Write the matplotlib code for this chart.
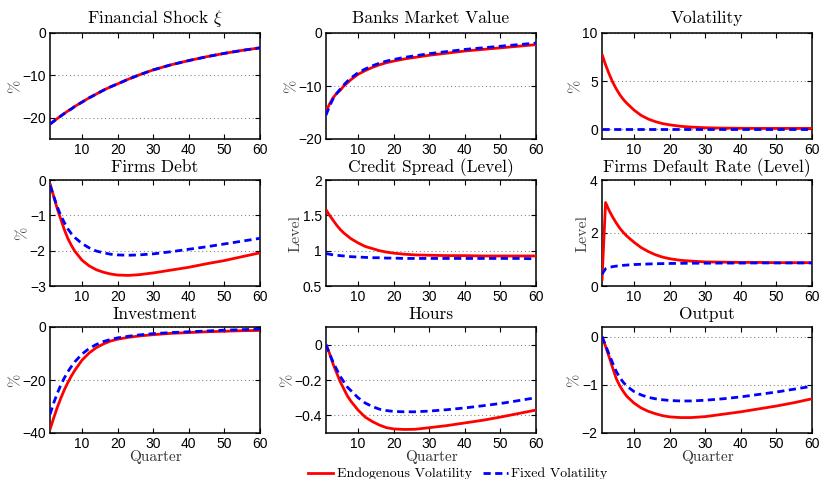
import matplotlib
matplotlib.use("Agg")
import matplotlib.pyplot as plt
from matplotlib.lines import Line2D

plt.rcParams["mathtext.fontset"] = "cm"
plt.rcParams["font.family"] = ["Liberation Sans", "DejaVu Sans"]

# Quarters at which the impulse responses are recorded
quarters = [1, 2, 3, 4, 5, 6, 7, 8, 10, 12, 14, 16, 18, 20, 23, 26, 30, 35, 40, 45, 50, 55, 60]

shock_endo = [-21.5, -20.85, -20.2, -19.6, -19.0, -18.4, -17.9, -17.3, -16.3, -15.3, -14.4, -13.5,
              -12.7, -12.0, -10.9, -9.9, -8.7, -7.5, -6.5, -5.6, -4.8, -4.1, -3.5]
shock_fixed = [-21.5, -20.85, -20.2, -19.6, -19.0, -18.4, -17.9, -17.3, -16.3, -15.3, -14.4, -13.5,
               -12.7, -12.0, -10.9, -9.9, -8.7, -7.5, -6.5, -5.6, -4.8, -4.1, -3.5]

banks_endo = [-14.8, -13.4, -12.2, -11.4, -10.8, -10.0, -9.4, -8.8, -7.8, -7.1, -6.5, -6.0,
              -5.6, -5.3, -4.9, -4.6, -4.2, -3.8, -3.4, -3.1, -2.8, -2.5, -2.2]
banks_fixed = [-15.5, -13.8, -12.4, -11.4, -10.6, -9.8, -9.1, -8.5, -7.5, -6.8, -6.2, -5.7,
               -5.3, -5.0, -4.6, -4.3, -3.9, -3.5, -3.1, -2.8, -2.5, -2.2, -1.9]

vol_endo = [7.8, 6.7, 5.75, 4.9, 4.2, 3.6, 3.1, 2.7, 2.0, 1.45, 1.07, 0.8,
            0.6, 0.47, 0.32, 0.24, 0.17, 0.13, 0.11, 0.1, 0.1, 0.1, 0.1]
vol_fixed = [0.0] * 23

debt_endo = [-0.1, -0.45, -0.8, -1.1, -1.4, -1.65, -1.85, -2.02, -2.27, -2.43, -2.54, -2.61,
             -2.66, -2.69, -2.7, -2.68, -2.63, -2.55, -2.47, -2.37, -2.28, -2.17, -2.06]
debt_fixed = [-0.15, -0.45, -0.75, -1.0, -1.2, -1.38, -1.52, -1.63, -1.8, -1.92, -2.01, -2.06,
              -2.1, -2.12, -2.13, -2.12, -2.09, -2.03, -1.96, -1.89, -1.81, -1.73, -1.65]

spread_endo = [1.58, 1.5, 1.43, 1.36, 1.3, 1.25, 1.21, 1.17, 1.11, 1.06, 1.03, 1.0,
               0.98, 0.965, 0.95, 0.94, 0.935, 0.93, 0.93, 0.925, 0.925, 0.925, 0.925]
spread_fixed = [0.96, 0.95, 0.94, 0.935, 0.93, 0.925, 0.92, 0.915, 0.91, 0.905, 0.9, 0.9,
                0.895, 0.895, 0.89, 0.89, 0.89, 0.89, 0.89, 0.89, 0.89, 0.89, 0.885]

default_endo = [0.2, 3.15, 2.85, 2.6, 2.38, 2.18, 2.02, 1.88, 1.65, 1.45, 1.3, 1.18,
                1.09, 1.03, 0.97, 0.94, 0.91, 0.9, 0.89, 0.89, 0.88, 0.88, 0.88]
default_fixed = [0.45, 0.65, 0.7, 0.73, 0.75, 0.77, 0.78, 0.79, 0.81, 0.82, 0.83, 0.84,
                 0.845, 0.85, 0.855, 0.86, 0.86, 0.865, 0.865, 0.87, 0.87, 0.87, 0.87]

invest_endo = [-38.7, -34.5, -30.5, -27.0, -23.8, -21.0, -18.5, -16.3, -12.5, -9.8, -7.8, -6.4,
               -5.3, -4.6, -3.9, -3.4, -2.9, -2.4, -2.1, -1.8, -1.6, -1.4, -1.3]
invest_fixed = [-33.0, -28.8, -25.2, -22.0, -19.3, -16.9, -14.9, -13.1, -10.2, -8.1, -6.6, -5.5,
                -4.7, -4.1, -3.5, -3.0, -2.5, -2.1, -1.8, -1.5, -1.2, -1.0, -0.8]

hours_endo = [0.0, -0.05, -0.11, -0.16, -0.21, -0.25, -0.29, -0.32, -0.37, -0.41, -0.435, -0.455,
              -0.47, -0.477, -0.48, -0.479, -0.47, -0.458, -0.443, -0.428, -0.41, -0.39, -0.37]
hours_fixed = [0.0, -0.05, -0.1, -0.14, -0.18, -0.21, -0.24, -0.26, -0.3, -0.33, -0.35, -0.365,
               -0.373, -0.378, -0.38, -0.38, -0.376, -0.368, -0.358, -0.346, -0.333, -0.317, -0.3]

output_endo = [0.0, -0.2, -0.42, -0.65, -0.87, -1.02, -1.14, -1.24, -1.38, -1.48, -1.55, -1.6,
               -1.64, -1.665, -1.68, -1.68, -1.66, -1.61, -1.56, -1.5, -1.44, -1.37, -1.29]
output_fixed = [0.0, -0.18, -0.37, -0.55, -0.72, -0.85, -0.95, -1.03, -1.14, -1.21, -1.26, -1.29,
                -1.31, -1.325, -1.335, -1.335, -1.32, -1.29, -1.25, -1.2, -1.15, -1.09, -1.03]

titles = ["Financial Shock $\\xi$", "Banks Market Value", "Volatility",
          "Firms Debt", "Credit Spread (Level)", "Firms Default Rate (Level)",
          "Investment", "Hours", "Output"]
ylabels = ["%", "%", "%", "%", "Level", "Level", "%", "%", "%"]
ylims = [(-25, 0), (-20, 0), (-1, 10), (-3, 0), (0.5, 2), (0, 4), (-40, 0), (-0.5, 0.1), (-2, 0.2)]
yticks = [[-20, -10, 0], [-20, -10, 0], [0, 5, 10], [-3, -2, -1, 0], [0.5, 1, 1.5, 2],
          [0, 2, 4], [-40, -20, 0], [-0.4, -0.2, 0], [-2, -1, 0]]
yticklabels = [None, None, None, None, ["0.5", "1", "1.5", "2"], None, None,
               ["\u22120.4", "\u22120.2", "0"], None]
endo = [shock_endo, banks_endo, vol_endo, debt_endo, spread_endo, default_endo,
        invest_endo, hours_endo, output_endo]
fixed = [shock_fixed, banks_fixed, vol_fixed, debt_fixed, spread_fixed, default_fixed,
         invest_fixed, hours_fixed, output_fixed]
xticks = [10, 20, 30, 40, 50, 60]

W, H = 821, 479
fig = plt.figure(figsize=(W / 100, H / 100), dpi=100)

col_left = [50, 326, 602]
row_top = [33, 180, 327]
title_pad = [7.5, 5.5, 5.5]
ax_w, ax_h = 210, 106

serif = "cmr10"
red = (1, 0, 0)
blue = (0, 0, 1)
dash = (0, (2.6, 1.6))

for i in range(9):
    r, c = divmod(i, 3)
    ax = fig.add_axes([col_left[c] / W, 1 - (row_top[r] + ax_h) / H, ax_w / W, ax_h / H])
    ax.plot(quarters, endo[i], color=red, lw=2.0, solid_capstyle="butt", zorder=3)
    ax.plot(quarters, fixed[i], color=blue, lw=2.0, linestyle=dash, zorder=4)
    ax.set_xlim(1, 60)
    ax.set_ylim(*ylims[i])
    ax.set_xticks(xticks)
    ax.set_yticks(yticks[i])
    if yticklabels[i] is not None:
        ax.set_yticklabels(yticklabels[i])
    ax.yaxis.grid(True, linestyle=(0, (1, 2.5)), color="#888888", lw=0.8)
    ax.set_axisbelow(True)
    ax.tick_params(direction="in", top=True, right=True, length=3.5, width=0.8,
                   labelsize=10, pad=3, colors="black")
    for sp in ax.spines.values():
        sp.set_linewidth(1.1)
    ax.set_title(titles[i], family=serif, fontsize=12.5, pad=title_pad[r])
    ax.set_ylabel(ylabels[i], family=serif, fontsize=11.5, color="#444444", labelpad=0)
    if r == 2:
        ax.set_xlabel("Quarter", family=serif, fontsize=11, labelpad=-1, color="#333333")

handles = [Line2D([], [], color=red, lw=2.0),
           Line2D([], [], color=blue, lw=2.0, linestyle=dash)]
fig.legend(handles, ["Endogenous Volatility", "Fixed Volatility"], loc="center",
           bbox_to_anchor=(458 / W, 1 - 474 / H), ncol=2, frameon=False,
           prop={"family": serif, "size": 10}, handlelength=1.8, handletextpad=0.25,
           columnspacing=0.8, borderpad=0)

fig.savefig("out.png", dpi=100)
